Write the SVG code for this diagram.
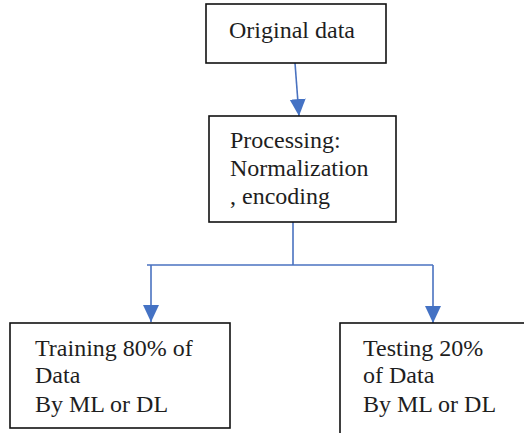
<svg xmlns="http://www.w3.org/2000/svg" width="524" height="433" viewBox="0 0 524 433">
<defs>
<style>
.box{fill:#fff;stroke:#111;stroke-width:1.6}
.t{font-family:'Liberation Serif','DejaVu Serif',serif;font-size:24px;fill:#1e1e1e}
.c{fill:none;stroke:#4a72c0;stroke-width:1.6}
</style>
<marker id="ah" markerUnits="userSpaceOnUse" markerWidth="18" markerHeight="18" viewBox="0 0 18 18" refX="17" refY="9" orient="auto">
<path d="M0,1 L17,9 L0,17 Z" fill="#4472c4"/>
</marker>
</defs>
<rect width="524" height="433" fill="#fff"/>
<g id="connectors">
<line class="c" x1="295" y1="63" x2="299" y2="116" marker-end="url(#ah)"/>
<polyline class="c" points="293,222 293,265"/>
<polyline class="c" points="147,265 433,265"/>
<line class="c" x1="151" y1="265" x2="151" y2="322" marker-end="url(#ah)"/>
<line class="c" x1="433" y1="265" x2="433" y2="323" marker-end="url(#ah)"/>
</g>
<g id="original">
<rect class="box" x="206" y="4" width="180" height="59"/>
<text class="t" x="229" y="38">Original data</text>
</g>
<g id="processing">
<rect class="box" x="209" y="116" width="187" height="106"/>
<text class="t" x="230" y="148">Processing:</text>
<text class="t" x="230" y="176">Normalization</text>
<text class="t" x="230" y="204">, encoding</text>
</g>
<g id="training">
<rect class="box" x="10" y="323" width="220" height="105"/>
<text class="t" x="35" y="356">Training 80% of</text>
<text class="t" x="35" y="383">Data</text>
<text class="t" x="35" y="412">By ML or DL</text>
</g>
<g id="testing">
<rect class="box" x="340" y="323" width="200" height="130"/>
<text class="t" x="363" y="356">Testing 20%</text>
<text class="t" x="363" y="383">of Data</text>
<text class="t" x="363" y="412">By ML or DL</text>
</g>
</svg>
